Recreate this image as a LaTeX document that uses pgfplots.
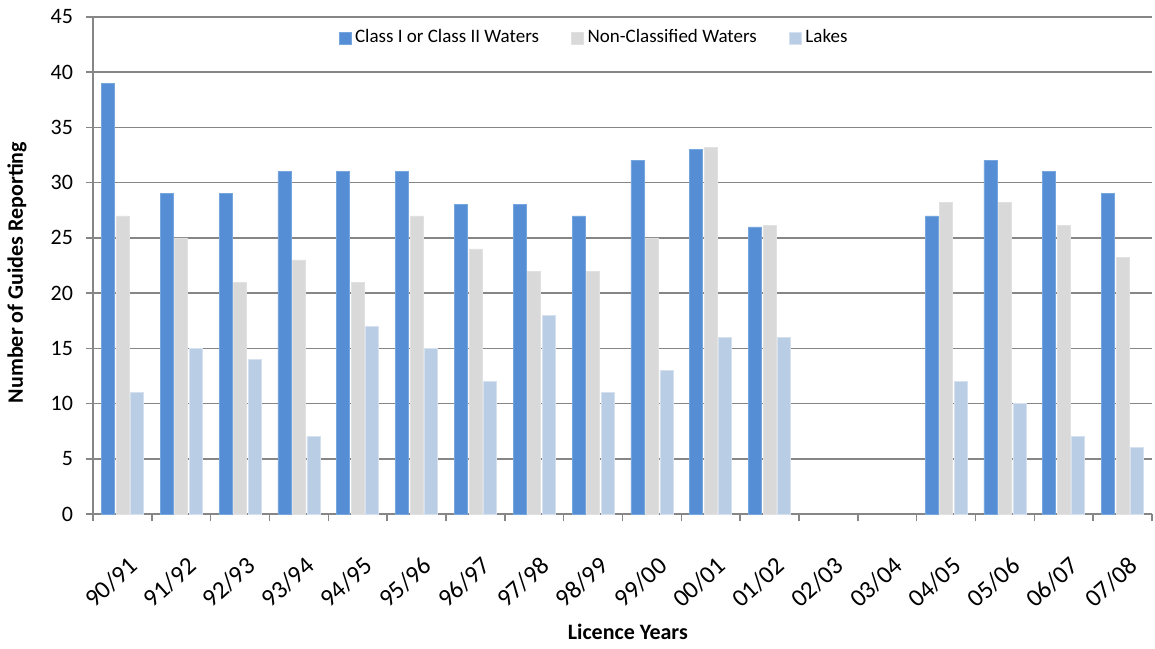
\documentclass[border=0pt]{standalone}
\usepackage{pgfplots}
\pgfplotsset{compat=1.18}
\usepackage{fontspec}
\setmainfont{Carlito}
\definecolor{cblue}{RGB}{85,142,213}
\definecolor{cgray}{RGB}{217,217,217}
\definecolor{clake}{RGB}{185,205,229}
\definecolor{gridc}{RGB}{134,134,134}
\begin{document}
\begin{tikzpicture}
\useasboundingbox (-46.5pt,-67pt) rectangle (531pt,257pt);
\begin{axis}[
  at={(0pt,0pt)}, anchor=south west,
  scale only axis,
  width=529.5pt, height=248.5pt,
  ybar=0.75pt, bar width=6.5pt,
  xmin=-0.5, xmax=17.5,
  ymin=0, ymax=45,
  ytick={0,5,...,45},
  xtick={0,...,17},
  xticklabels={90/91,91/92,92/93,93/94,94/95,95/96,96/97,97/98,98/99,99/00,00/01,01/02,02/03,03/04,04/05,05/06,06/07,07/08},
  minor xtick={-0.5,0.5,...,17.5},
  major x tick style={draw=none},
  tick align=outside,
  major tick length=3.5pt,
  minor tick length=3.5pt,
  tick style={gridc, line width=0.8pt},
  axis lines*=left,
  axis line style={gridc, line width=0.8pt},
  ymajorgrids,
  grid style={gridc, line width=0.8pt},
  /pgf/number format/assume math mode=true,
  ticklabel style={font=\fontsize{11}{13}\selectfont},
  yticklabel style={xshift=-3pt},
  xticklabel style={font=\fontsize{12.5}{14}\selectfont, xshift=2.5pt, yshift=-17pt, rotate=42, anchor=north east, inner sep=0pt},
  xlabel={Licence Years},
  ylabel={Number of Guides Reporting},
  label style={font=\fontsize{11}{13}\selectfont\bfseries},
  xlabel style={at={(axis description cs:0.505,-0.2374)}, anchor=center},
  ylabel style={at={(axis description cs:-0.0718,0.486)}, anchor=center},
  legend columns=3,
  legend style={draw=none, fill=none, at={(axis description cs:0.474,0.958)}, anchor=center,
    font=\fontsize{9.5}{11}\selectfont,
    /tikz/every even column/.append style={column sep=14pt},
    /tikz/every odd column/.append style={column sep=0pt}},
  legend image code/.code={\fill[#1] (0pt,-3pt) rectangle (6pt,3pt);},
  legend cell align=left,
]
\addplot[fill=cblue, draw=cblue!80!white, line width=0.3pt] coordinates {
 (0,39) (1,29) (2,29) (3,31) (4,31) (5,31) (6,28) (7,28) (8,27) (9,32) (10,33) (11,26) (14,27) (15,32) (16,31) (17,29)};
\addplot[fill=cgray, draw=cgray!80!white, line width=0.3pt] coordinates {
 (0,27) (1,25) (2,21) (3,23) (4,21) (5,27) (6,24) (7,22) (8,22) (9,25) (10,33.2) (11,26.1) (14,28.2) (15,28.2) (16,26.1) (17,23.2)};
\addplot[fill=clake, draw=clake!60!white, line width=0.3pt] coordinates {
 (0,11) (1,15) (2,14) (3,7) (4,17) (5,15) (6,12) (7,18) (8,11) (9,13) (10,16) (11,16) (14,12) (15,10) (16,7) (17,6)};
\legend{Class I or Class II Waters, Non-Classified Waters, Lakes}
\end{axis}
\end{tikzpicture}
\end{document}
